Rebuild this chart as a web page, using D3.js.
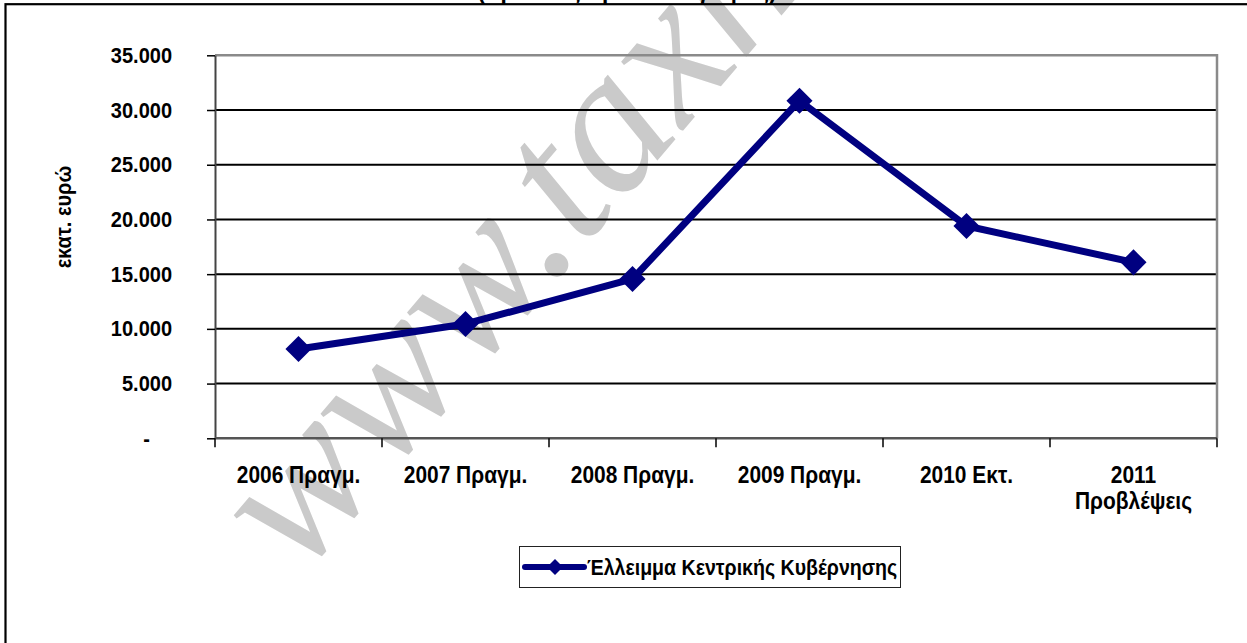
<!DOCTYPE html>
<html>
<head>
<meta charset="utf-8">
<script src="https://cdn.jsdelivr.net/npm/d3@7"></script>
<style>
  html, body { margin: 0; padding: 0; background: #fff; }
  text { font-family: "Liberation Sans", Arial, sans-serif; font-weight: bold; }
</style>
</head>
<body>
<div id="chart"></div>
<script>
// data
const categories = ['2006 Πραγμ.', '2007 Πραγμ.', '2008 Πραγμ.', '2009 Πραγμ.', '2010 Εκτ.', '2011 Προβλέψεις'];
const deficit = [8160, 10450, 14560, 30850, 19400, 16080];
const yTicks = [0, 5000, 10000, 15000, 20000, 25000, 30000, 35000];
const seriesName = 'Έλλειμμα Κεντρικής Κυβέρνησης';
const yLabel = 'εκατ. ευρώ';
const titleText = '(Κρατικός Προϋπολογισμός)';
const watermark = 'www.taxheaven.gr';

const W = 1247, H = 643;
const plot = { left: 215, right: 1217, top: 55.3, bottom: 438.3 };
const navy = '#000080';
const squeeze = 0.91; // the original text is slightly condensed

const svg = d3.select('#chart').append('svg')
  .attr('width', W)
  .attr('height', H);

svg.append('rect').attr('width', W).attr('height', H).attr('fill', '#fff');

// watermark sits under everything
svg.append('text')
  .attr('transform', 'translate(300,579) rotate(-49.5)')
  .style('font-family', '"Liberation Serif", serif')
  .style('font-style', 'italic')
  .style('font-weight', 'normal')
  .style('font-size', '200px')
  .attr('fill', '#cacaca')
  .text(watermark);

// chart frame (runs off the right and bottom edges)
svg.append('rect')
  .attr('x', 5.5).attr('y', 4.2)
  .attr('width', W + 50).attr('height', H + 50)
  .attr('fill', 'none')
  .attr('stroke', '#000')
  .attr('stroke-width', 2.2);

// title, only its lower edge is visible
svg.append('text')
  .attr('x', 627).attr('y', -1)
  .attr('text-anchor', 'middle')
  .style('font-size', '22px')
  .text(titleText);

const x = d3.scaleBand()
  .domain(categories)
  .range([plot.left, plot.right]);

const y = d3.scaleLinear()
  .domain([0, 35000])
  .range([plot.bottom, plot.top]);

// gridlines
svg.append('g')
  .selectAll('line')
  .data(yTicks.filter(d => d > 0 && d < 35000))
  .enter().append('line')
  .attr('x1', plot.left).attr('x2', plot.right)
  .attr('y1', d => y(d)).attr('y2', d => y(d))
  .attr('stroke', '#000')
  .attr('stroke-width', 2);

// plot area border, top and right
svg.append('path')
  .attr('d', `M${plot.left},${y(35000)}H${plot.right}V${plot.bottom}`)
  .attr('fill', 'none')
  .attr('stroke', '#8a8a8a')
  .attr('stroke-width', 2.5);

// y axis
const fmt = d => d === 0 ? '-' : d3.format(',')(d).replace(/,/g, '.');
const yAxis = svg.append('g')
  .attr('transform', `translate(${plot.left},0)`)
  .call(d3.axisLeft(y).tickValues(yTicks).tickSize(8).tickSizeOuter(0).tickFormat(fmt));
yAxis.select('.domain').attr('stroke', '#444').attr('stroke-width', 2);
yAxis.selectAll('.tick line').attr('stroke', '#000').attr('stroke-width', 1.5);
yAxis.selectAll('.tick text')
  .attr('fill', '#000')
  .attr('x', d => (d === 0 ? -65 : -43) / squeeze)
  .attr('transform', `scale(${squeeze},1)`)
  .style('font-size', '22px')
  .style('font-family', '"Liberation Sans", Arial, sans-serif')
  .style('font-weight', 'bold');

svg.append('text')
  .attr('transform', `translate(71,217) rotate(-90) scale(${squeeze},1)`)
  .attr('text-anchor', 'middle')
  .style('font-size', '22px')
  .text(yLabel);

// x axis
const xAxis = svg.append('g').attr('transform', `translate(0,${plot.bottom})`);
xAxis.append('line')
  .attr('x1', plot.left).attr('x2', plot.right)
  .attr('stroke', '#555')
  .attr('stroke-width', 2.5);
xAxis.selectAll('.xtick')
  .data(d3.range(categories.length + 1))
  .enter().append('line')
  .attr('class', 'xtick')
  .attr('x1', i => plot.left + i * x.step())
  .attr('x2', i => plot.left + i * x.step())
  .attr('y1', 0).attr('y2', 9)
  .attr('stroke', '#000')
  .attr('stroke-width', 1.5);

const labels = svg.append('g').selectAll('text')
  .data(categories)
  .enter().append('text')
  .attr('transform', d => `translate(${x(d) + x.bandwidth() / 2},483) scale(${squeeze},1)`)
  .attr('text-anchor', 'middle')
  .style('font-size', '23px')
  .text(d => d);

// wrap labels that do not fit in their band
labels.each(function (d) {
  const t = d3.select(this);
  if (this.getComputedTextLength() * squeeze > x.step() - 12 && d.indexOf(' ') > 0) {
    const words = d.split(' ');
    t.text(null);
    words.forEach((w, i) => {
      t.append('tspan').attr('x', 0).attr('dy', i === 0 ? 0 : 26).text(w);
    });
  }
});

// series line and markers
const cx = (d, i) => x(categories[i]) + x.bandwidth() / 2;
const line = d3.line().x(cx).y(d => y(d));

svg.append('path')
  .datum(deficit)
  .attr('d', line)
  .attr('fill', 'none')
  .attr('stroke', navy)
  .attr('stroke-width', 7)
  .attr('stroke-linejoin', 'round');

const diamond = d3.symbol().type(d3.symbolSquare).size(340);
svg.append('g').selectAll('path')
  .data(deficit)
  .enter().append('path')
  .attr('d', diamond)
  .attr('transform', (d, i) => `translate(${cx(d, i)},${y(d)}) rotate(45)`)
  .attr('fill', navy);

// legend
const legend = svg.append('g');
legend.append('rect')
  .attr('x', 519.5).attr('y', 546.5)
  .attr('width', 381).attr('height', 41)
  .attr('fill', '#fff')
  .attr('stroke', '#222')
  .attr('stroke-width', 1);
legend.append('line')
  .attr('x1', 525).attr('x2', 584)
  .attr('y1', 567).attr('y2', 567)
  .attr('stroke', navy)
  .attr('stroke-width', 6)
  .attr('stroke-linecap', 'round');
legend.append('path')
  .attr('d', d3.symbol().type(d3.symbolSquare).size(130))
  .attr('transform', 'translate(555,567) rotate(45)')
  .attr('fill', navy);
legend.append('text')
  .attr('transform', `translate(587,575) scale(${squeeze},1)`)
  .style('font-size', '21.5px')
  .text(seriesName);
</script>
</body>
</html>
